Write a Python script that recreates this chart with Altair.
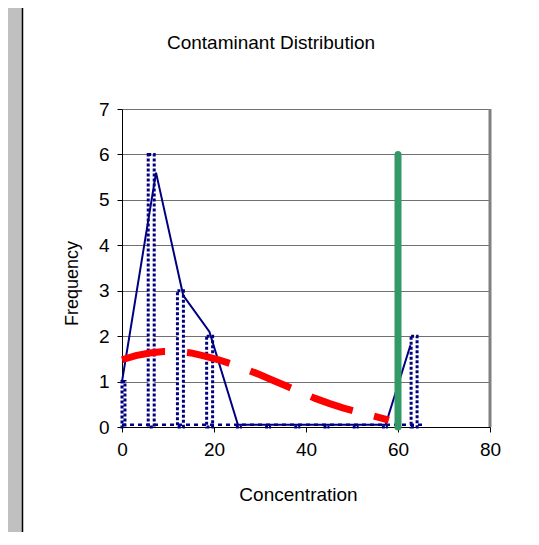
import altair as alt
import pandas as pd

# Histogram bins (centers) and counts
bin_centers = [0, 6.35, 12.7, 19.05, 25.4, 31.75, 38.1, 44.45, 50.8, 57.15, 63.5]
bin_counts = [1, 6, 3, 2, 0, 0, 0, 0, 0, 0, 2]
bar_half = 0.65
baseline_span = [0, 66]
baseline_level = 0.05

# Frequency polygon (navy line)
poly_x = [0, 7.4, 13.3, 19.0, 25.2, 57.3, 62.7]
poly_y = [1.0, 5.6, 2.9, 2.1, 0.05, 0.05, 1.8]

# Fitted distribution (red dashed)
fit_x = [0, 3, 6, 9, 12, 15, 18, 21, 24, 27, 30, 33, 36, 39, 42, 45, 48, 51, 54, 57, 58]
fit_y = [1.48, 1.57, 1.63, 1.66, 1.66, 1.63, 1.56, 1.48, 1.38, 1.27, 1.15, 1.02,
         0.89, 0.76, 0.63, 0.52, 0.42, 0.34, 0.26, 0.18, 0.15]

# Threshold line (green)
limit_x = [60]
limit_top = [6]

bars = pd.DataFrame({
    "left": [max(0, c - bar_half) for c in bin_centers],
    "right": [c + bar_half for c in bin_centers],
    "count": bin_counts,
})
bars["zero"] = 0
poly = pd.DataFrame({"x": poly_x, "y": poly_y})
fit = pd.DataFrame({"x": fit_x, "y": fit_y})
limit = pd.DataFrame({"x": limit_x, "y": [0], "y2": limit_top})
base = pd.DataFrame({"x": [baseline_span[0]], "x2": [baseline_span[1]], "y": [baseline_level]})

FONT = "Liberation Sans"
xscale = alt.Scale(domain=[0, 80], nice=False, zero=False)
yscale = alt.Scale(domain=[0, 7], nice=False)

xaxis = alt.Axis(values=[0, 20, 40, 60, 80], grid=False, title="Concentration",
                 labelFlush=False,
                 titleX=176, titleY=67, titleBaseline="middle", titleAlign="center")
yaxis = alt.Axis(values=[0, 1, 2, 3, 4, 5, 6, 7], grid=True, title="Frequency",
                 labelFlush=False, titleFontSize=18,
                 titleX=-50, titleY=174, titleBaseline="middle", titleAlign="center",
                 titleAngle=270)

bar_layer = alt.Chart(bars).mark_rect(
    fill="white", stroke="#000080", strokeWidth=3, strokeDash=[3, 2]
).encode(
    x=alt.X("left:Q", scale=xscale, axis=xaxis),
    x2="right:Q",
    y=alt.Y("count:Q", scale=yscale, axis=yaxis),
    y2="zero:Q",
)

base_layer = alt.Chart(base).mark_rule(
    color="#000080", strokeWidth=2.5, strokeDash=[4, 4]
).encode(x=alt.X("x:Q", scale=xscale), x2="x2:Q", y=alt.Y("y:Q", scale=yscale))

poly_layer = alt.Chart(poly).mark_line(color="#000080", strokeWidth=2).encode(
    x=alt.X("x:Q", scale=xscale), y=alt.Y("y:Q", scale=yscale)
)

fit_layer = alt.Chart(fit).mark_line(
    color="#FF0000", strokeWidth=7, strokeDash=[44, 22], strokeCap="butt"
).encode(x=alt.X("x:Q", scale=xscale), y=alt.Y("y:Q", scale=yscale))

limit_layer = alt.Chart(limit).mark_rule(
    color="#339966", strokeWidth=7, strokeCap="round"
).encode(x=alt.X("x:Q", scale=xscale), y=alt.Y("y:Q", scale=yscale), y2="y2:Q")

right_border = alt.Chart(pd.DataFrame({"x": [80]})).mark_rule(
    color="#808080", strokeWidth=3
).encode(x=alt.X("x:Q", scale=xscale), y=alt.value(0), y2=alt.value(318))

strip = alt.Chart(pd.DataFrame({"a": [0]})).mark_rect(fill="#C0C0C0").encode(
    x=alt.value(-114), x2=alt.value(-100), y=alt.value(-101), y2=alt.value(430)
)
frame_left = alt.Chart(pd.DataFrame({"a": [0]})).mark_rule(
    color="black", strokeWidth=1.5
).encode(x=alt.value(-99.5), y=alt.value(-101), y2=alt.value(430))

chart = alt.layer(
    strip, frame_left, bar_layer, base_layer, poly_layer, fit_layer, right_border, limit_layer
).properties(
    width=368,
    height=318,
    title=alt.TitleParams("Contaminant Distribution", anchor="middle", frame="group",
                          dx=-35, offset=-55, baseline="middle", fontSize=19,
                          font=FONT, fontWeight="normal", color="black"),
    autosize=alt.AutoSizeParams(type="none"),
    padding={"left": 114, "top": 101, "right": 41, "bottom": 105},
    background="white",
).configure_view(
    strokeWidth=0
).configure_axis(
    labelFont=FONT, labelFontSize=19, labelColor="black",
    titleFont=FONT, titleFontSize=19, titleColor="black", titleFontWeight="normal",
    domainColor="black", domainWidth=1, tickColor="black", tickSize=5, tickWidth=1,
    gridColor="#707070", gridWidth=1, labelPadding=8,
)

chart.save("out.html", embed_options={"renderer": "svg", "actions": False})
